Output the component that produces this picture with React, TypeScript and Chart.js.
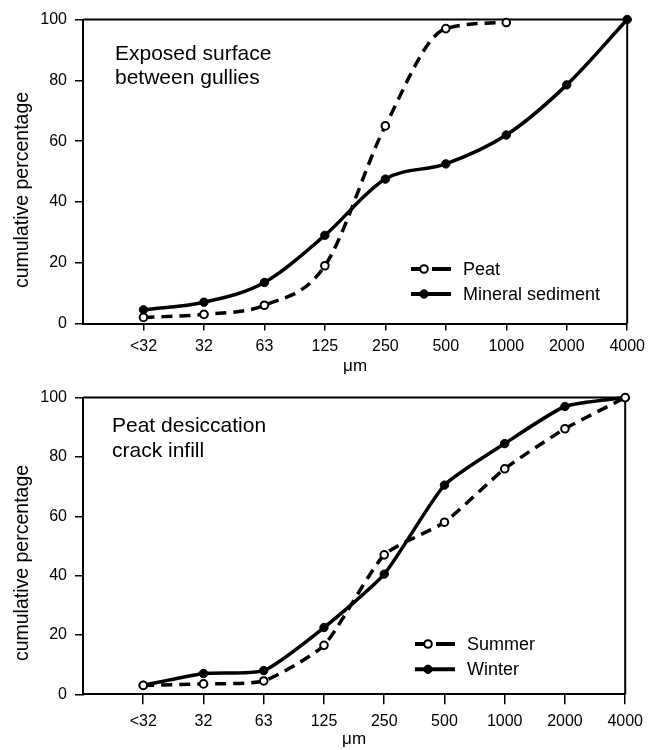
import React, { useEffect, useRef } from 'react';
import { Chart, registerables } from 'chart.js';

Chart.register(...registerables);

// ---- data ----
const sizeClasses = ['<32', '32', '63', '125', '250', '500', '1000', '2000', '4000'];
const yTickValues = [0, 20, 40, 60, 80, 100];

const peatTop = [2, 3, 6, 19, 65, 97, 99];
const mineralTop = [4.5, 7, 13.5, 29, 47.5, 52.5, 62, 78.5, 100];

const summerBottom = [3, 3.5, 4.5, 16.5, 47, 58, 76, 89.5, 100];
const winterBottom = [3, 7, 8, 22.5, 40.5, 70.5, 84.5, 97, 100];

const topTitle = ['Exposed surface', 'between gullies'];
const bottomTitle = ['Peat desiccation', 'crack infill'];
const yAxisTitle = 'cumulative percentage';
const xAxisTitle = 'μm';

const FONT = "'Liberation Sans', Arial, Helvetica, sans-serif";

const toPoints = (vals: number[]) => vals.map((v, i) => ({ x: i, y: v }));

const curveOpts = (smooth: boolean) =>
  smooth ? { cubicInterpolationMode: 'monotone' } : { cubicInterpolationMode: 'default', tension: 0.18 };

const openSeries = (label: string, vals: number[], smooth: boolean) => ({
  label,
  data: toPoints(vals),
  borderColor: '#000',
  borderWidth: 3.5,
  borderDash: [11, 7],
  pointRadius: 3.8,
  pointHoverRadius: 3.8,
  pointBackgroundColor: '#fff',
  pointBorderColor: '#000',
  pointBorderWidth: 2,
  ...curveOpts(smooth),
  fill: false,
  clip: false,
});

const filledSeries = (label: string, vals: number[], smooth: boolean) => ({
  label,
  data: toPoints(vals),
  borderColor: '#000',
  borderWidth: 3.5,
  borderDash: [],
  pointRadius: 4.2,
  pointHoverRadius: 4.2,
  pointBackgroundColor: '#000',
  pointBorderColor: '#000',
  pointBorderWidth: 1,
  ...curveOpts(smooth),
  fill: false,
  clip: false,
});

const framePlugin = {
  id: 'frame',
  beforeDatasetsDraw(chart: any) {
    const { ctx, chartArea: a } = chart;
    ctx.save();
    ctx.strokeStyle = '#000';
    ctx.lineWidth = 2;
    ctx.beginPath();
    ctx.moveTo(a.left, a.top);
    ctx.lineTo(a.right, a.top);
    ctx.lineTo(a.right, a.bottom);
    ctx.stroke();
    ctx.restore();
  },
};

const decorPlugin = {
  id: 'decor',
  afterDraw(chart: any, _args: any, opts: any) {
    const { ctx } = chart;
    ctx.save();
    ctx.fillStyle = '#000';
    // panel title
    ctx.font = `21px ${FONT}`;
    ctx.textAlign = 'left';
    ctx.textBaseline = 'alphabetic';
    opts.title.forEach((line: string, i: number) => {
      ctx.fillText(line, opts.titleX, opts.titleY + i * opts.titleGap);
    });
    // y axis title
    ctx.save();
    ctx.translate(opts.yTitleX, opts.yTitleY);
    ctx.rotate(-Math.PI / 2);
    ctx.font = `19.5px ${FONT}`;
    ctx.textAlign = 'center';
    ctx.textBaseline = 'middle';
    ctx.fillText(yAxisTitle, 0, 0);
    ctx.restore();
    // legend
    chart.data.datasets.forEach((ds: any, i: number) => {
      const y = opts.legendY + i * opts.legendGap;
      const x0 = opts.legendX;
      ctx.strokeStyle = '#000';
      ctx.lineWidth = 4;
      ctx.setLineDash([]);
      ctx.beginPath();
      if (ds.borderDash && ds.borderDash.length) {
        ctx.moveTo(x0, y);
        ctx.lineTo(x0 + 9, y);
        ctx.moveTo(x0 + 21, y);
        ctx.lineTo(x0 + 40, y);
      } else {
        ctx.moveTo(x0, y);
        ctx.lineTo(x0 + 40, y);
      }
      ctx.stroke();
      ctx.beginPath();
      ctx.arc(x0 + 13, y, ds.pointRadius, 0, Math.PI * 2);
      ctx.fillStyle = ds.pointBackgroundColor;
      ctx.fill();
      ctx.lineWidth = ds.pointBorderWidth;
      ctx.stroke();
      ctx.fillStyle = '#000';
      ctx.font = `18px ${FONT}`;
      ctx.textAlign = 'left';
      ctx.textBaseline = 'middle';
      ctx.fillText(ds.label, opts.legendTextX, y + 1);
    });
    ctx.restore();
  },
};

function makeConfig(p: any) {
  return {
    type: 'line',
    data: { datasets: p.datasets },
    plugins: [framePlugin, decorPlugin],
    options: {
      responsive: false,
      animation: false,
      devicePixelRatio: 1,
      layout: { padding: { left: 0, right: 21, top: p.padTop, bottom: 0 } },
      plugins: {
        legend: { display: false },
        tooltip: { enabled: false },
        decor: p.decor,
      },
      scales: {
        x: {
          type: 'linear',
          min: -1,
          max: 8,
          afterBuildTicks: (s: any) => {
            s.ticks = sizeClasses.map((_, i) => ({ value: i }));
          },
          afterFit: (s: any) => {
            s.height = p.xHeight;
          },
          ticks: {
            autoSkip: false,
            maxRotation: 0,
            color: '#000',
            padding: p.xTickPad,
            font: { family: FONT, size: 16 },
            callback: (v: any) => sizeClasses[v] ?? '',
          },
          grid: {
            drawOnChartArea: false,
            drawTicks: true,
            tickLength: p.xTickLen,
            color: '#000',
            lineWidth: 1.5,
          },
          border: { display: true, color: '#000', width: 2 },
          title: {
            display: true,
            text: xAxisTitle,
            color: '#000',
            font: { family: FONT, size: 17 },
            padding: { top: 0, bottom: p.xTitlePad },
          },
        },
        y: {
          type: 'linear',
          min: 0,
          max: 100,
          afterBuildTicks: (s: any) => {
            s.ticks = yTickValues.map((v) => ({ value: v }));
          },
          afterFit: (s: any) => {
            s.width = 83;
          },
          ticks: {
            color: '#000',
            padding: 8,
            font: { family: FONT, size: 16 },
          },
          grid: {
            drawOnChartArea: false,
            drawTicks: true,
            tickLength: 8,
            color: '#000',
            lineWidth: 1.5,
          },
          border: { display: true, color: '#000', width: 2 },
          title: { display: false },
        },
      },
    },
  };
}

function Panel({ config, top, height }: { config: any; top: number; height: number }) {
  const ref = useRef<HTMLCanvasElement | null>(null);
  useEffect(() => {
    const chart = new Chart(ref.current as HTMLCanvasElement, config as any);
    return () => chart.destroy();
  }, []);
  return (
    <canvas
      ref={ref}
      width={651}
      height={height}
      style={{ position: 'absolute', left: 0, top, width: 651, height, display: 'block' }}
    />
  );
}

const topConfig = makeConfig({
  datasets: [openSeries('Peat', peatTop, true), filledSeries('Mineral sediment', mineralTop, true)],
  padTop: 19.5,
  xHeight: 56.5,
  xTickLen: 7,
  xTickPad: 6,
  xTitlePad: 3,
  decor: {
    title: topTitle,
    titleX: 115,
    titleY: 59.5,
    titleGap: 24.5,
    yTitleX: 23,
    yTitleY: 190,
    legendX: 411,
    legendY: 269,
    legendGap: 25,
    legendTextX: 463,
  },
});

const bottomConfig = makeConfig({
  datasets: [openSeries('Summer', summerBottom, false), filledSeries('Winter', winterBottom, false)],
  padTop: 11,
  xHeight: 55.7,
  xTickLen: 10,
  xTickPad: 8,
  xTitlePad: 0,
  decor: {
    title: bottomTitle,
    titleX: 112,
    titleY: 52,
    titleGap: 25,
    yTitleX: 23,
    yTitleY: 183,
    legendX: 415,
    legendY: 264,
    legendGap: 25.3,
    legendTextX: 467,
  },
});

export default function App() {
  return (
    <div style={{ position: 'absolute', left: 0, top: 0, width: 651, height: 750, background: '#fff', overflow: 'hidden' }}>
      <Panel config={topConfig} top={0} height={380} />
      <Panel config={bottomConfig} top={380} height={370} />
    </div>
  );
}
